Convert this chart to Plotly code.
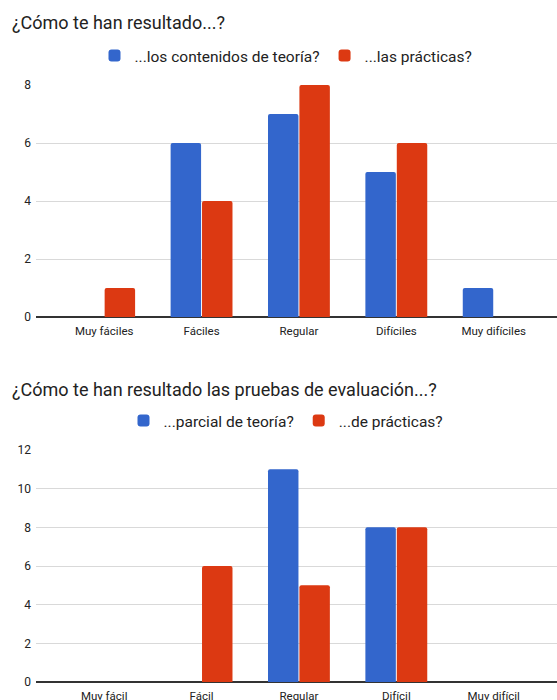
import plotly.graph_objects as go

# Chart 1: perceived difficulty of course content
cats1 = ["Muy fáciles", "Fáciles", "Regular", "Difíciles", "Muy difíciles"]
teoria1 = [0, 6, 7, 5, 1]
practicas1 = [1, 4, 8, 6, 0]
name_t1 = "...los contenidos de teoría?"
name_p1 = "...las prácticas?"
title1 = "¿Cómo te han resultado...?"
yticks1 = [0, 2, 4, 6, 8]

# Chart 2: perceived difficulty of the exams
cats2 = ["Muy fácil", "Fácil", "Regular", "Difícil", "Muy difícil"]
teoria2 = [0, 0, 11, 8, 0]
practicas2 = [0, 6, 5, 8, 0]
name_t2 = "...parcial de teoría?"
name_p2 = "...de prácticas?"
title2 = "¿Cómo te han resultado las pruebas de evaluación...?"
yticks2 = [0, 2, 4, 6, 8, 10, 12]

BLUE = "#3366CC"
RED = "#DC3912"
H = 700
W = 557
LEFT = 36

def py(px):
    return 1 - px / H

def pxx(px):
    return (px - LEFT) / (W - LEFT)

fig = go.Figure()
fig.add_trace(go.Bar(x=cats1, y=teoria1, name=name_t1, marker_color=BLUE,
                     xaxis="x", yaxis="y", legend="legend"))
fig.add_trace(go.Bar(x=cats1, y=practicas1, name=name_p1, marker_color=RED,
                     xaxis="x", yaxis="y", legend="legend"))
fig.add_trace(go.Bar(x=cats2, y=teoria2, name=name_t2, marker_color=BLUE,
                     xaxis="x2", yaxis="y2", legend="legend2"))
fig.add_trace(go.Bar(x=cats2, y=practicas2, name=name_p2, marker_color=RED,
                     xaxis="x2", yaxis="y2", legend="legend2"))

xcommon = dict(type="category", range=[-0.70, 4.65], showgrid=False,
               ticks="", showline=False, tickfont=dict(size=11.5, color="#222"),
               ticklabelstandoff=5, automargin=False, fixedrange=True)
ycommon = dict(showgrid=True, gridcolor="#d9d9d9", gridwidth=1,
               zeroline=True, zerolinecolor="#333", zerolinewidth=1.5,
               tickfont=dict(size=12, color="#222"), ticks="",
               ticklabelstandoff=4, automargin=False)

legend_common = dict(orientation="h", xanchor="center", yanchor="middle",
                     xref="paper", yref="paper", font=dict(size=15.5, color="#222"),
                     itemwidth=30, traceorder="normal", bgcolor="rgba(0,0,0,0)")

fig.update_layout(
    template="none",
    width=W, height=H,
    margin=dict(l=LEFT, r=0, t=0, b=0, autoexpand=False),
    paper_bgcolor="white", plot_bgcolor="white",
    font=dict(family="Roboto, Arial, sans-serif", color="#222"),
    barmode="group", bargap=0.355, bargroupgap=0.03, barcornerradius=2,
    xaxis=dict(**xcommon, domain=[0, 1], anchor="y"),
    yaxis=dict(**ycommon, domain=[py(317), py(85)], range=[0, 8],
               tickvals=yticks1, anchor="x"),
    xaxis2=dict(**xcommon, domain=[0, 1], anchor="y2"),
    yaxis2=dict(**ycommon, domain=[py(682), py(450)], range=[0, 12],
                tickvals=yticks2, anchor="x2"),
    legend=dict(**legend_common, x=pxx(286), y=py(56)),
    legend2=dict(**legend_common, x=pxx(286), y=py(421)),
    annotations=[
        dict(text=title1, x=0, xref="paper", xanchor="left", xshift=-26,
             y=py(22), yref="paper", yanchor="middle", showarrow=False,
             font=dict(size=18, color="#222")),
        dict(text=title2, x=0, xref="paper", xanchor="left", xshift=-26,
             y=py(389), yref="paper", yanchor="middle", showarrow=False,
             font=dict(size=18, color="#222")),
    ],
)

fig.write_html("out.html")
